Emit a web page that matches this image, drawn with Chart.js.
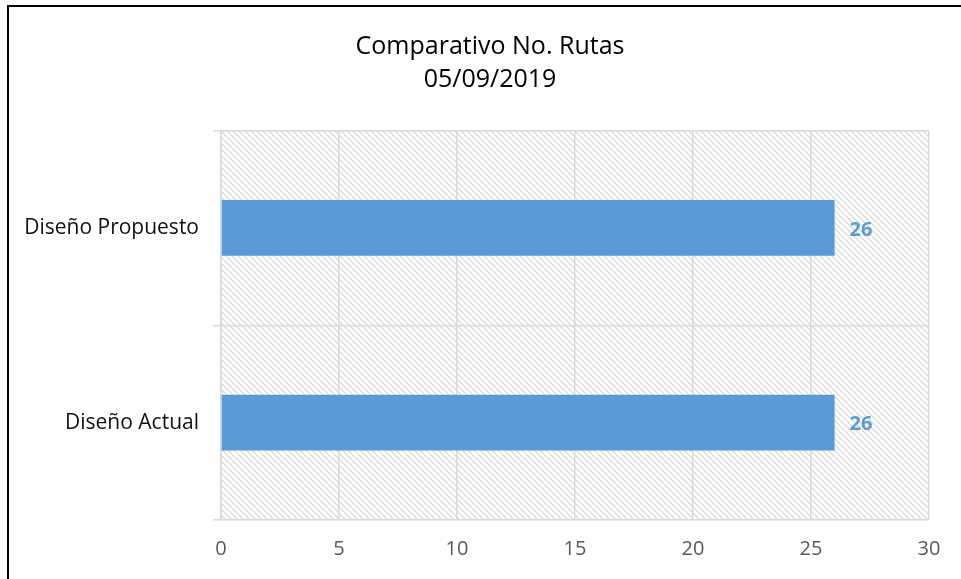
<!DOCTYPE html>
<html>
<head>
<meta charset="utf-8">
<script src="https://cdn.jsdelivr.net/npm/chart.js@4"></script>
<style>
  html, body { margin: 0; padding: 0; background: #fff; }
  #wrap { position: relative; width: 961px; height: 579px; overflow: hidden; }
  #frame { position: absolute; left: 7px; top: 5px; width: 1000px; height: 1000px;
           border-left: 2px solid #000; border-top: 2px solid #000; pointer-events: none; }
  canvas { position: absolute; left: 0; top: 0; }
</style>
</head>
<body>
<div id="wrap">
  <div id="frame"></div>
  <!-- el marco del gráfico original sigue más allá del borde derecho -->
  <canvas id="chart" width="980" height="579"></canvas>
</div>
<script>
// datos del gráfico
const categorias = ['Diseño Propuesto', 'Diseño Actual'];
const rutas = [26, 26];
const tituloLineas = ['Comparativo No. Rutas', '05/09/2019'];
const ejeMin = 0;
const ejeMax = 30;
const ejePaso = 5;

const fuente = '"Open Sans", sans-serif';
const azul = '#5b9bd5';

// patrón rayado diagonal para el fondo del área de trazado
function crearRayado() {
    const c = document.createElement('canvas');
    c.width = 6; c.height = 6;
    const g = c.getContext('2d');
    g.strokeStyle = '#d4d4d4';
    g.lineWidth = 1.2;
    g.beginPath();
    g.moveTo(-1, -1); g.lineTo(7, 7);
    g.moveTo(-1, 5); g.lineTo(1, 7);
    g.moveTo(5, -1); g.lineTo(7, 1);
    g.stroke();
    return g.createPattern(c, 'repeat');
}

const fondoRayado = {
    id: 'fondoRayado',
    beforeDraw(chart) {
        const { ctx, chartArea: a } = chart;
        ctx.save();
        ctx.fillStyle = crearRayado();
        ctx.fillRect(a.left, a.top, a.right - a.left, a.bottom - a.top);
        ctx.restore();
    }
};

// etiquetas de valor al final de cada barra
const etiquetas = {
    id: 'etiquetas',
    afterDatasetsDraw(chart) {
        const { ctx } = chart;
        const meta = chart.getDatasetMeta(0);
        ctx.save();
        ctx.font = 'bold 20px ' + fuente;
        ctx.fillStyle = azul;
        ctx.textAlign = 'left';
        ctx.textBaseline = 'middle';
        meta.data.forEach((bar, i) => {
            ctx.fillText(String(chart.data.datasets[0].data[i]), bar.x + 15, bar.y + 2);
        });
        ctx.restore();
    }
};

new Chart(document.getElementById('chart'), {
    type: 'bar',
    data: {
        labels: categorias,
        datasets: [{
            data: rutas,
            backgroundColor: azul,
            borderWidth: 0,
            categoryPercentage: 1,
            barPercentage: 0.286
        }]
    },
    options: {
        indexAxis: 'y',
        responsive: false,
        animation: false,
        layout: { padding: { left: 0, right: 0, top: 13, bottom: 0 } },
        plugins: {
            legend: { display: false },
            tooltip: { enabled: false },
            title: {
                display: true,
                text: tituloLineas,
                color: '#000',
                font: { family: fuente, size: 25, weight: 'normal', lineHeight: 33 / 25 },
                padding: { top: 17.5, bottom: 34 }
            }
        },
        scales: {
            x: {
                min: ejeMin,
                max: ejeMax,
                ticks: { stepSize: ejePaso, color: '#595959', font: { family: fuente, size: 20 }, padding: 17 },
                grid: { color: '#d9d9d9', lineWidth: 1.5, drawTicks: false },
                border: { display: false },
                afterFit(s) { s.height = 59; }
            },
            y: {
                ticks: { color: '#111', font: { family: fuente, size: 21 }, padding: 14 },
                grid: { offset: true, color: '#d9d9d9', lineWidth: 1.5, tickLength: 8 },
                border: { color: '#d9d9d9', width: 1.5 },
                afterFit(s) { s.width = 221; }
            },
            // eje vacío a la derecha: solo reserva el margen derecho del área de trazado
            margenDer: {
                type: 'linear',
                position: 'right',
                ticks: { display: false },
                grid: { display: false },
                border: { display: false },
                afterFit(s) { s.width = 51; }
            }
        }
    },
    plugins: [fondoRayado, etiquetas]
});
</script>
</body>
</html>
